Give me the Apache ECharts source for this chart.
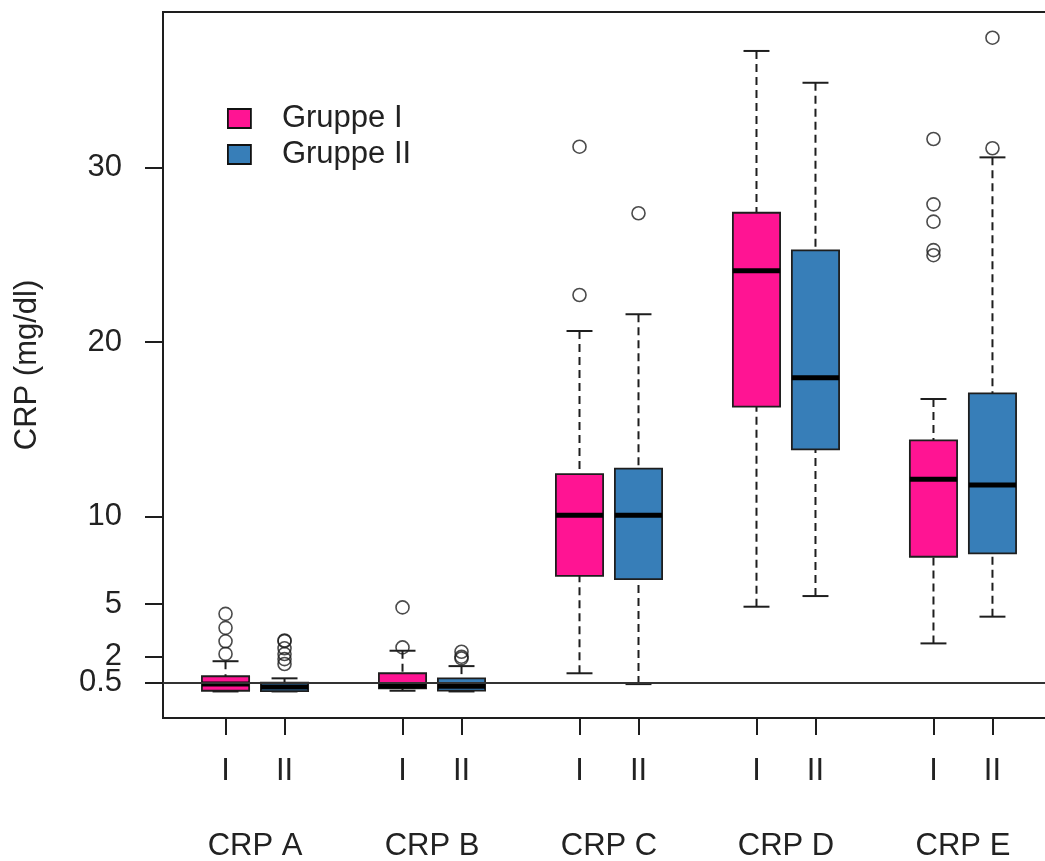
<!DOCTYPE html>
<html><head><meta charset="utf-8">
<script src="https://cdn.jsdelivr.net/npm/echarts@6/dist/echarts.min.js"></script>
<style>html,body{margin:0;padding:0;background:#fff}#c{width:1045px;height:861px}</style>
</head><body><div id="c"></div>
<script>
const groups = ['CRP A', 'CRP B', 'CRP C', 'CRP D', 'CRP E'];
const subgroupLabels = ['I', 'II'];
const seriesNames = ['Gruppe I', 'Gruppe II'];
// [lower whisker, Q1, median, Q3, upper whisker]
const statsGruppeI = [
  [0.00, 0.04, 0.42, 0.87, 1.73],
  [0.04, 0.18, 0.31, 1.04, 2.33],
  [1.04, 6.62, 10.08, 12.44, 20.63],
  [4.85, 16.30, 24.08, 27.40, 36.66],
  [2.75, 7.71, 12.14, 14.37, 16.74]
];
const statsGruppeII = [
  [0.00, 0.02, 0.25, 0.50, 0.75],
  [0.00, 0.05, 0.30, 0.75, 1.45],
  [0.42, 6.43, 10.08, 12.75, 21.59],
  [5.46, 13.86, 17.96, 25.25, 34.84],
  [4.28, 7.90, 11.81, 17.06, 30.57]
];
const outliersGruppeI = [[2.15, 2.87, 3.64, 4.44], [2.52, 4.81], [22.69, 31.18], [], [24.97, 25.26, 26.89, 27.88, 31.62]];
const outliersGruppeII = [[1.57, 1.85, 2.14, 2.47, 2.88, 2.92], [1.89, 1.99, 2.27], [27.37], [], [31.09, 37.42]];
// tick labels of the y axis; the two lowest ones sit very close, so they are split over two axes
const yTickValuesMain = [0.5, 5, 10, 20, 30];
const yTickValuesExtra = [2];
const referenceLine = 0.5;

const colors = ['#FF1493', '#377EB8'];
const ink = '#1e1e1e';
const font = "'Liberation Sans', Arial, sans-serif";

function pos(g, s) { return 3 * g + s + 1; }
const boxPositions = [];
groups.forEach((g, gi) => subgroupLabels.forEach((s, si) => boxPositions.push(pos(gi, si))));
const groupCenters = groups.map((g, gi) => (pos(gi, 0) + pos(gi, 1)) / 2);

function boxData(stats, si) { return stats.map((st, gi) => [pos(gi, si)].concat(st)); }
function outlierData(outs, si) {
  const r = [];
  outs.forEach((list, gi) => list.forEach(v => r.push([pos(gi, si), v])));
  return r;
}

function renderBox(params, api) {
  const x = api.value(0);
  const lo = api.value(1), q1 = api.value(2), med = api.value(3), q3 = api.value(4), hi = api.value(5);
  const halfW = api.size([0.8, 0])[0] / 2;
  const capHalf = api.size([0.44, 0])[0] / 2;
  const pLo = api.coord([x, lo]), pQ1 = api.coord([x, q1]), pMed = api.coord([x, med]),
        pQ3 = api.coord([x, q3]), pHi = api.coord([x, hi]);
  const cx = pMed[0];
  const dash = { stroke: ink, lineWidth: 2, lineDash: [8, 5] };
  const solid = { stroke: ink, lineWidth: 2 };
  return {
    type: 'group',
    children: [
      { type: 'line', shape: { x1: cx, y1: pLo[1], x2: cx, y2: pQ1[1] }, style: dash },
      { type: 'line', shape: { x1: cx, y1: pHi[1], x2: cx, y2: pQ3[1] }, style: dash },
      { type: 'line', shape: { x1: cx - capHalf, y1: pLo[1], x2: cx + capHalf, y2: pLo[1] }, style: solid },
      { type: 'line', shape: { x1: cx - capHalf, y1: pHi[1], x2: cx + capHalf, y2: pHi[1] }, style: solid },
      { type: 'rect', shape: { x: cx - halfW, y: pQ3[1], width: 2 * halfW, height: pQ1[1] - pQ3[1] },
        style: { fill: api.visual('color'), stroke: ink, lineWidth: 1.8 } },
      { type: 'line', shape: { x1: cx - halfW, y1: pMed[1], x2: cx + halfW, y2: pMed[1] },
        style: { stroke: '#000', lineWidth: 5 } }
    ]
  };
}

function yAxisDef(values, withName) {
  const ax = {
    type: 'value', min: -1.52, max: 38.89, position: 'left', offset: 0,
    axisLine: { show: false, onZero: false }, splitLine: { show: false },
    axisTick: { show: true, customValues: values, length: 18, lineStyle: { color: ink, width: 2 } },
    axisLabel: { show: true, customValues: values, margin: 41, fontSize: 31, color: '#222', fontFamily: font,
      hideOverlap: false, formatter: v => String(v) }
  };
  if (withName) {
    Object.assign(ax, { name: 'CRP (mg/dl)', nameLocation: 'middle', nameGap: 120, nameRotate: 90,
      nameTextStyle: { fontSize: 31, color: '#222', fontFamily: font } });
  }
  return ax;
}

const chart = echarts.init(document.getElementById('c'), null, { renderer: 'canvas' });
const option = {
  animation: false,
  backgroundColor: '#fff',
  textStyle: { fontFamily: font },
  grid: { left: 163, top: 12, width: 892, bottom: 143, show: true, borderColor: ink, borderWidth: 2,
    backgroundColor: 'transparent', containLabel: false, outerBoundsMode: 'none' },
  legend: {
    orient: 'vertical', left: 227, top: 103, itemWidth: 23, itemHeight: 19, itemGap: 5, padding: 0,
    selectedMode: false,
    textStyle: { fontSize: 31, color: '#222', fontFamily: font, padding: [0, 0, 0, 26] },
    data: seriesNames.map((n, i) => ({ name: n, icon: 'rect', itemStyle: { color: colors[i], borderColor: '#111', borderWidth: 1.8 } }))
  },
  xAxis: [
    {
      type: 'value', min: -0.06, max: 15.06, gridIndex: 0, position: 'bottom',
      axisLine: { show: false, onZero: false }, splitLine: { show: false },
      axisTick: { show: true, customValues: boxPositions, length: 17, lineStyle: { color: ink, width: 2 } },
      axisLabel: { show: true, customValues: boxPositions, margin: 38, fontSize: 31, color: '#222', fontFamily: font, hideOverlap: false,
        formatter: v => subgroupLabels[(Math.round(v) - 1) % 3] }
    },
    {
      type: 'value', min: -0.06, max: 15.06, gridIndex: 0, position: 'bottom',
      axisLine: { show: false, onZero: false }, splitLine: { show: false }, axisTick: { show: false },
      axisLabel: { show: true, customValues: groupCenters, margin: 113, fontSize: 31, color: '#222', fontFamily: font, hideOverlap: false,
        formatter: v => groups[Math.round((v - 1.5) / 3)] }
    }
  ],
  yAxis: [yAxisDef(yTickValuesMain, true), yAxisDef(yTickValuesExtra, false)],
  series: [
    { name: seriesNames[0], type: 'custom', renderItem: renderBox, itemStyle: { color: colors[0] },
      encode: { x: 0, y: [1, 2, 3, 4, 5] }, data: boxData(statsGruppeI, 0), z: 2 },
    { name: seriesNames[1], type: 'custom', renderItem: renderBox, itemStyle: { color: colors[1] },
      encode: { x: 0, y: [1, 2, 3, 4, 5] }, data: boxData(statsGruppeII, 1), z: 2,
      markLine: { silent: true, symbol: ['none', 'none'], label: { show: false }, z: 5,
        lineStyle: { color: '#333', width: 1.8, type: 'solid' }, data: [{ yAxis: referenceLine }] } },
    { name: 'Ausreißer I', type: 'scatter', symbol: 'circle', symbolSize: 13, z: 3,
      itemStyle: { color: 'rgba(0,0,0,0)', borderColor: ink, borderWidth: 1.6 }, data: outlierData(outliersGruppeI, 0) },
    { name: 'Ausreißer II', type: 'scatter', symbol: 'circle', symbolSize: 13, z: 3,
      itemStyle: { color: 'rgba(0,0,0,0)', borderColor: ink, borderWidth: 1.6 }, data: outlierData(outliersGruppeII, 1) }
  ]
};
chart.setOption(option);
</script></body></html>
